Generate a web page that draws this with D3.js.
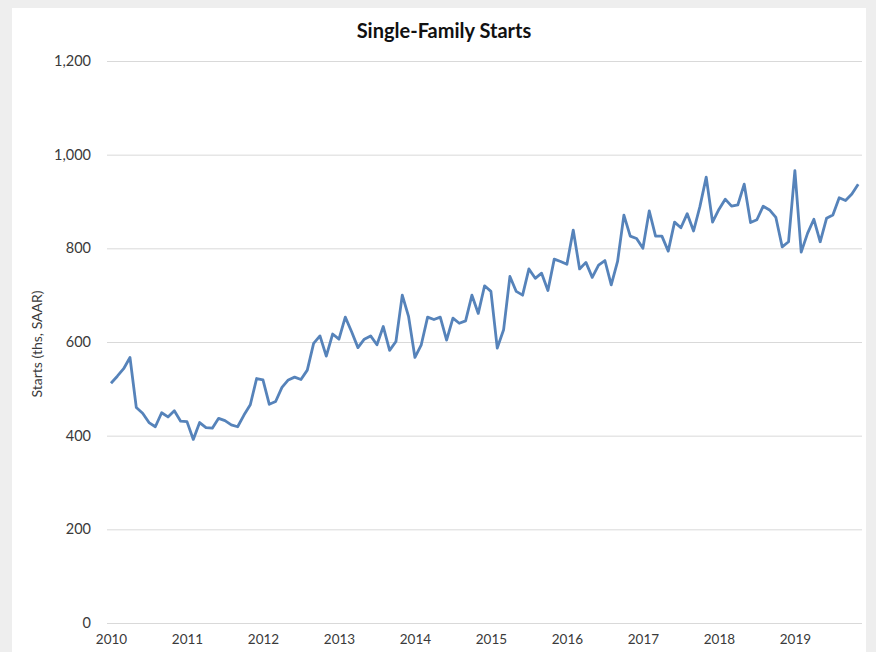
<!DOCTYPE html>
<html>
<head>
<meta charset="utf-8">
<script src="https://d3js.org/d3.v7.min.js"></script>
<style>
    body { margin: 0; background: #eeeeee; }
    text { font-family: Lato, "Open Sans", sans-serif; fill: #3a3a3a; }
    .title { font-size: 20px; font-weight: bold; fill: #111111; }
    .y-axis .tick text { font-size: 14.5px; }
    .x-axis .tick text { font-size: 13.5px; }
    .axis-label { font-size: 14px; }
</style>
</head>
<body>
<div id="chart"></div>
<script>
// Single-family starts, thousands SAAR, monthly Jan 2010 - Nov 2019
const years = ["2010", "2011", "2012", "2013", "2014", "2015", "2016", "2017", "2018", "2019"];
const yTicks = [0, 200, 400, 600, 800, 1000, 1200];

const starts2010 = [512, 527, 543, 567, 460, 448, 428, 419, 449, 440, 453, 431];
const starts2011 = [430, 392, 428, 417, 416, 437, 432, 423, 419, 444, 466, 522];
const starts2012 = [519, 467, 473, 503, 519, 525, 520, 540, 597, 613, 570, 617];
const starts2013 = [606, 653, 622, 588, 606, 613, 594, 633, 582, 601, 700, 654];
const starts2014 = [567, 594, 653, 648, 653, 604, 651, 640, 645, 700, 661, 720];
const starts2015 = [708, 587, 626, 740, 708, 700, 756, 736, 747, 710, 777, 772];
const starts2016 = [766, 839, 756, 770, 738, 764, 774, 722, 772, 871, 826, 821];
const starts2017 = [800, 880, 826, 826, 794, 856, 844, 874, 837, 889, 952, 856];
const starts2018 = [883, 905, 890, 893, 937, 855, 861, 890, 882, 866, 803, 814];
const starts2019 = [966, 792, 832, 862, 814, 864, 871, 908, 902, 916, 937];

const starts = [].concat(starts2010, starts2011, starts2012, starts2013, starts2014,
    starts2015, starts2016, starts2017, starts2018, starts2019);

const W = 876, H = 652;
const svg = d3.select("#chart").append("svg")
    .attr("width", W)
    .attr("height", H);

// white chart panel on the grey page
svg.append("rect")
    .attr("x", 12).attr("y", 8)
    .attr("width", 854).attr("height", H - 8)
    .attr("fill", "#ffffff");

const x = d3.scaleLinear()
    .domain([-0.63, 118.6])
    .range([107, 862]);

const y = d3.scaleLinear()
    .domain([0, 1200])
    .range([623, 61]);

// gridlines + y labels
const yAxis = svg.append("g")
    .attr("class", "y-axis")
    .attr("transform", "translate(107,0)")
    .call(d3.axisLeft(y)
        .tickValues(yTicks)
        .tickSize(-755)
        .tickPadding(16)
        .tickFormat(d3.format(",")));
yAxis.select(".domain").remove();
yAxis.selectAll(".tick line").attr("stroke", "#d9d9d9").attr("stroke-width", 1);

// year labels
const xAxis = svg.append("g")
    .attr("class", "x-axis")
    .attr("transform", "translate(0,623)")
    .call(d3.axisBottom(x)
        .tickValues(years.map((d, i) => i * 12))
        .tickSize(0)
        .tickPadding(11)
        .tickFormat((d, i) => years[i]));
xAxis.select(".domain").remove();

// line
svg.append("path")
    .datum(starts)
    .attr("fill", "none")
    .attr("stroke", "#5683ba")
    .attr("stroke-width", 2.8)
    .attr("stroke-linejoin", "round")
    .attr("d", d3.line()
        .x((d, i) => x(i))
        .y(d => y(d)));

// title
svg.append("text")
    .attr("class", "title")
    .attr("x", 444)
    .attr("y", 38)
    .attr("text-anchor", "middle")
    .text("Single-Family Starts");

// y axis title
svg.append("text")
    .attr("class", "axis-label")
    .attr("transform", "translate(42,344) rotate(-90)")
    .attr("text-anchor", "middle")
    .text("Starts (ths, SAAR)");
</script>
</body>
</html>
